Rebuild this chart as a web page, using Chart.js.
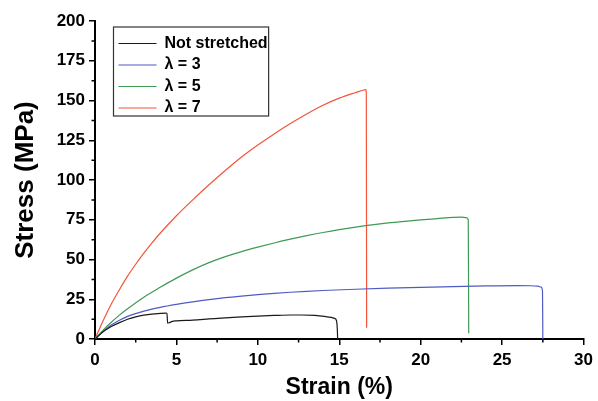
<!DOCTYPE html>
<html lang="en">
<head>
  <meta charset="UTF-8">
  <title>Stress vs strain</title>
  <script src="https://cdn.jsdelivr.net/npm/chart.js"></script>
  <style>
    body {
      margin: 0;
      background-color: #fff;
    }
    #chart-container {
      width: 598px;
      height: 401px;
    }
  </style>
</head>
<body>
  <div id="chart-container">
    <canvas id="stressChart" width="598" height="401"></canvas>
  </div>

  <script>
    // values: strain in %, stress in MPa
    const notStretchedStrain = [0, 0.5, 1, 1.5, 2, 2.5, 3, 3.5, 4, 4.3, 4.42, 4.46, 4.55, 4.75, 5, 6, 7, 8, 9, 10, 11, 12, 12.7, 13.5, 14.1, 14.5, 14.7, 14.83, 14.88, 14.9];
    const notStretchedStress = [0, 4.5, 7.8, 10.3, 12.4, 13.9, 15.0, 15.7, 16.1, 16.3, 16.2, 10.0, 10.2, 11.1, 11.4, 11.9, 12.6, 13.3, 13.9, 14.4, 14.8, 15.1, 15.1, 14.8, 14.2, 13.6, 13.0, 11.5, 6, 0];

    const lambda3Strain = [0, 0.5, 1, 1.5, 2, 3, 4, 5, 6, 7, 8, 9, 10, 11, 12, 13, 14, 16, 18, 20, 22, 24, 26, 26.8, 27.2, 27.4, 27.48, 27.5];
    const lambda3Stress = [0, 4.8, 8.8, 11.8, 14.2, 17.5, 19.9, 21.8, 23.4, 24.8, 26.0, 27.0, 27.9, 28.7, 29.4, 30.0, 30.5, 31.3, 32.0, 32.5, 33.0, 33.4, 33.6, 33.5, 33.2, 32.6, 30, 0];

    const lambda5Strain = [0, 0.5, 1, 1.5, 2, 3, 4, 5, 6, 7, 8, 9, 10, 11, 12, 13, 14, 15, 16, 17, 18, 19, 20, 21, 22, 22.5, 22.8, 22.92, 22.95];
    const lambda5Stress = [0, 5.5, 10.5, 15, 19, 26.3, 32.5, 38.3, 43.5, 48, 51.8, 55, 57.8, 60.4, 62.8, 65, 67, 68.8, 70.4, 71.8, 73, 74, 74.9, 75.7, 76.5, 76.6, 76.3, 75, 3.6];

    const lambda7Strain = [0, 0.5, 1, 1.5, 2, 2.5, 3, 3.5, 4, 5, 6, 7, 8, 9, 10, 11, 12, 13, 14, 15, 16, 16.5, 16.62, 16.66, 16.68];
    const lambda7Stress = [0, 11.5, 22, 31, 39.5, 47, 54, 60.5, 66.5, 77.5, 87.5, 97, 106, 114.5, 122, 129, 135.5, 141.5, 147, 151.5, 155, 156.6, 156.8, 155, 7];

    const seriesLabels = ['Not stretched', 'λ = 3', 'λ = 5', 'λ = 7'];
    const seriesColors = ['#1a1a1a', '#4f5bc4', '#3f9a55', '#f2553a'];

    const xTickValues = [0, 5, 10, 15, 20, 25, 30];
    const xMinorTicks = [2.5, 7.5, 12.5, 17.5, 22.5, 27.5];
    const yTickValues = [0, 25, 50, 75, 100, 125, 150, 175, 200];
    const yMinorTicks = [12.5, 37.5, 62.5, 87.5, 112.5, 137.5, 162.5, 187.5];

    const FONT = "Arial, 'Liberation Sans', sans-serif";

    function toPoints(xs, ys) {
      return xs.map((x, i) => ({ x: x, y: ys[i] }));
    }

    const seriesData = [
      toPoints(notStretchedStrain, notStretchedStress),
      toPoints(lambda3Strain, lambda3Stress),
      toPoints(lambda5Strain, lambda5Stress),
      toPoints(lambda7Strain, lambda7Stress)
    ];

    // short ticks halfway between the labelled ones
    const minorTicks = {
      id: 'minorTicks',
      afterDraw(chart) {
        const { ctx, chartArea, scales } = chart;
        ctx.save();
        ctx.strokeStyle = '#000';
        ctx.lineWidth = 1.5;
        ctx.beginPath();
        xMinorTicks.forEach(v => {
          const px = scales.x.getPixelForValue(v);
          ctx.moveTo(px, chartArea.bottom);
          ctx.lineTo(px, chartArea.bottom + 3.5);
        });
        yMinorTicks.forEach(v => {
          const py = scales.y.getPixelForValue(v);
          ctx.moveTo(chartArea.left - 3.5, py);
          ctx.lineTo(chartArea.left, py);
        });
        ctx.stroke();
        ctx.restore();
      }
    };

    // put the legend in the upper left of the plot and frame it
    const legendFrame = {
      id: 'legendFrame',
      afterLayout(chart) {
        const lg = chart.legend;
        const area = chart.chartArea;
        lg.left = area.left + 18;
        lg.top = area.top + 9;
        lg.right = lg.left + lg.width;
        lg.bottom = lg.top + lg.height;
      },
      afterDraw(chart) {
        const lg = chart.legend;
        const col = lg.columnSizes[0];
        const ctx = chart.ctx;
        ctx.save();
        ctx.strokeStyle = '#333';
        ctx.lineWidth = 1.2;
        ctx.strokeRect(lg.left + 0.5, lg.top - 3, col.width + 6, col.height + 3);
        ctx.restore();
      }
    };

    const ctx = document.getElementById('stressChart').getContext('2d');
    new Chart(ctx, {
      type: 'scatter',
      data: {
        datasets: seriesLabels.map((label, i) => ({
          label: label,
          data: seriesData[i],
          showLine: true,
          borderColor: seriesColors[i],
          backgroundColor: seriesColors[i],
          borderWidth: 1.2,
          pointRadius: 0,
          cubicInterpolationMode: 'monotone'
        }))
      },
      options: {
        responsive: false,
        animation: false,
        layout: {
          padding: { left: 0, top: 21, right: 13, bottom: 0 }
        },
        plugins: {
          tooltip: { enabled: false },
          legend: {
            position: 'chartArea',
            align: 'start',
            labels: {
              usePointStyle: true,
              pointStyle: 'line',
              pointStyleWidth: 38,
              padding: 5.5,
              color: '#000',
              font: { family: FONT, size: 16, weight: 'bold' }
            }
          }
        },
        scales: {
          x: {
            type: 'linear',
            min: 0,
            max: 30,
            afterFit: s => { s.height = 62; },
            afterBuildTicks: s => { s.ticks = xTickValues.map(v => ({ value: v })); },
            border: { display: true, color: '#000', width: 2 },
            grid: { drawOnChartArea: false, drawTicks: true, tickLength: 6, color: '#000', lineWidth: 1.5 },
            ticks: {
              padding: 5,
              color: '#000',
              maxRotation: 0,
              font: { family: FONT, size: 17, weight: 'bold' }
            },
            title: {
              display: true,
              text: 'Strain (%)',
              color: '#000',
              padding: { top: 4, bottom: 0 },
              font: { family: FONT, size: 23, weight: 'bold' }
            }
          },
          y: {
            type: 'linear',
            min: 0,
            max: 200,
            afterFit: s => { s.width = 95; },
            afterBuildTicks: s => { s.ticks = yTickValues.map(v => ({ value: v })); },
            border: { display: true, color: '#000', width: 2 },
            grid: { drawOnChartArea: false, drawTicks: true, tickLength: 6, color: '#000', lineWidth: 1.5 },
            ticks: {
              padding: 4,
              color: '#000',
              font: { family: FONT, size: 17, weight: 'bold' }
            },
            title: {
              display: true,
              text: 'Stress (MPa)',
              color: '#000',
              padding: { top: 10, bottom: 0 },
              font: { family: FONT, size: 26, weight: 'bold' }
            }
          }
        }
      },
      plugins: [minorTicks, legendFrame]
    });
  </script>
</body>
</html>
